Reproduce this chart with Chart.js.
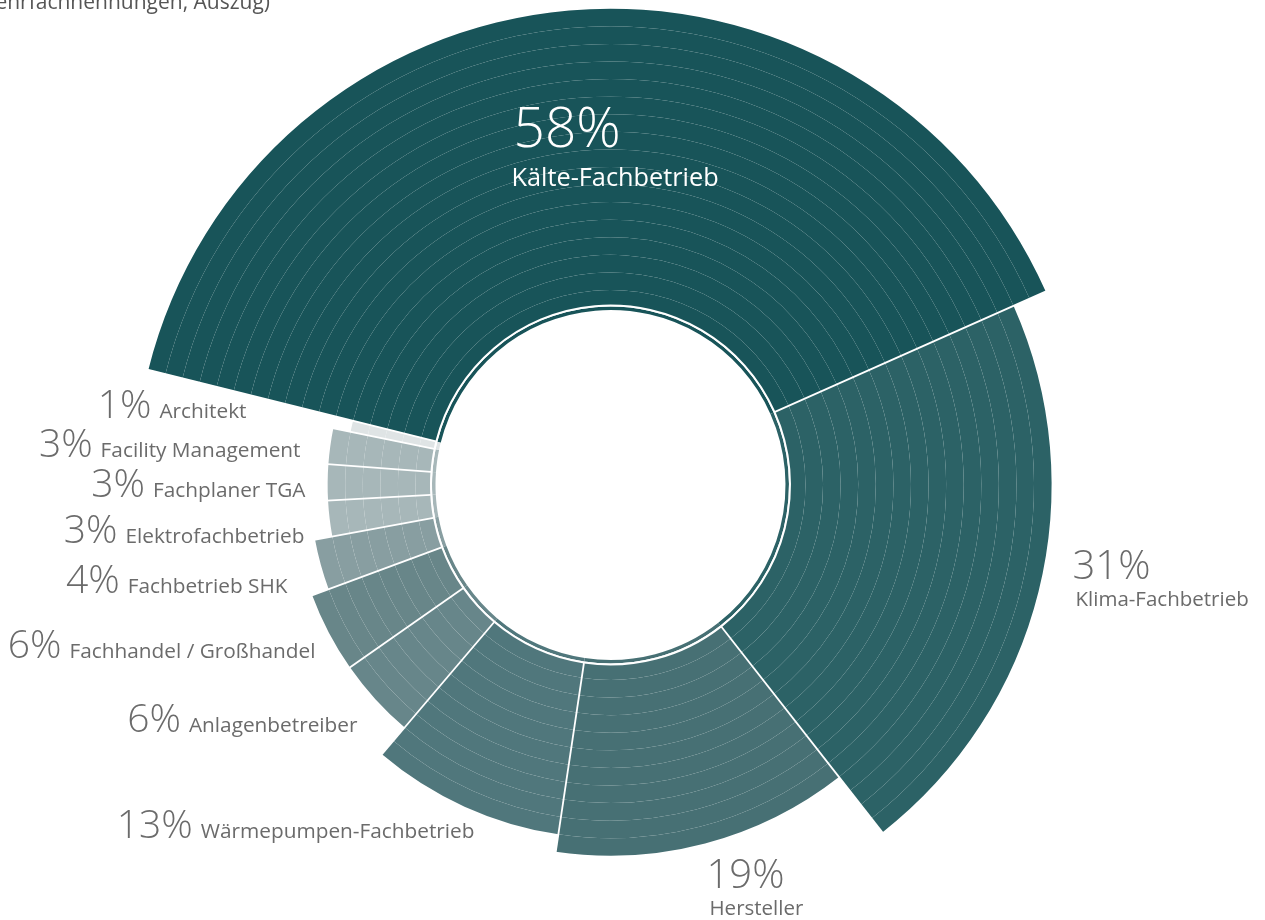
<!DOCTYPE html>
<html lang="de">
<head>
<meta charset="utf-8">
<title>Berufsgruppen (Mehrfachnennungen, Auszug)</title>
<script src="https://cdn.jsdelivr.net/npm/chart.js@4.4.1/dist/chart.umd.min.js"></script>
<style>
	html, body { margin: 0; padding: 0; background: #fff; overflow: hidden; }
	#wrap { position: relative; width: 1265px; height: 920px; overflow: hidden; }
	#myChart { position: absolute; left: 0; top: 0; }
</style>
</head>
<body>
<div id="wrap"><canvas id="myChart" width="1265" height="970"></canvas></div>
<script>
var title = "(Mehrfachnennungen, Auszug)";
var categories = ["Kälte-Fachbetrieb", "Klima-Fachbetrieb", "Hersteller", "Wärmepumpen-Fachbetrieb", "Anlagenbetreiber", "Fachhandel / Großhandel", "Fachbetrieb SHK", "Elektrofachbetrieb", "Fachplaner TGA", "Facility Management", "Architekt"];
var shares = [58, 31, 19, 13, 6, 6, 4, 3, 3, 3, 1];
// how many rings each slice reaches out to
var ringLevels = [17, 15, 11, 10, 8, 8, 7, 6, 6, 6, 5];
var sliceColors = ["#185459", "#2c6266", "#477074", "#50777c", "#67868a", "#688689", "#889ea1", "#a7b7b9", "#a7b7b9", "#a7b7b9", "#dfe4e5"];

var maxLevel = 17;

// label placement relative to the chart centre (layout only)
var labelLayout = [
	{ dx: -97, dy: -338, stacked: true, white: true, big: true },
	{ dx: 462, dy: 94, stacked: true },
	{ dx: 96, dy: 403, stacked: true },
	{ dx: -136, dy: 353 },
	{ dx: -253, dy: 247 },
	{ dx: -295, dy: 173 },
	{ dx: -323, dy: 108 },
	{ dx: -306, dy: 58 },
	{ dx: -305, dy: 12 },
	{ dx: -310, dy: -28 },
	{ dx: -364, dy: -67 }
];

var datasets = [];
for (var level = maxLevel; level >= 1; level--) {
	var bg = [];
	for (var i = 0; i < shares.length; i++) {
		bg.push(ringLevels[i] >= level ? sliceColors[i] : "rgba(0,0,0,0)");
	}
	datasets.push({
		label : "Ebene " + level,
		data : shares,
		backgroundColor : bg,
		borderWidth : 0,
		weight : level == 1 ? 14.5 : 17.6
	});
}
// white circle and thin inner ring
datasets.push({ label : "trenner", data : shares, backgroundColor : "#ffffff", borderWidth : 0, weight : 2 });
datasets.push({ label : "innen", data : shares, backgroundColor : sliceColors, borderWidth : 0, weight : 3.5 });

var separators = {
	id : "separators",
	afterDatasetsDraw : function(chart) {
		var ctx = chart.ctx;
		var base = chart.getDatasetMeta(maxLevel - 1).data;
		var n = shares.length;
		ctx.save();
		ctx.strokeStyle = "#ffffff";
		ctx.lineWidth = 1.8;
		for (var i = 0; i < n; i++) {
			var prev = (i + n - 1) % n;
			var rA = chart.getDatasetMeta(maxLevel - ringLevels[i]).data[i].outerRadius;
			var rB = chart.getDatasetMeta(maxLevel - ringLevels[prev]).data[prev].outerRadius;
			var arc = base[i];
			var a = arc.startAngle;
			var r0 = arc.innerRadius - 0.5;
			var r1 = Math.max(rA, rB) + 1;
			ctx.beginPath();
			ctx.moveTo(arc.x + Math.cos(a) * r0, arc.y + Math.sin(a) * r0);
			ctx.lineTo(arc.x + Math.cos(a) * r1, arc.y + Math.sin(a) * r1);
			ctx.stroke();
		}
		ctx.restore();
	}
};

var labels = {
	id : "labels",
	afterDraw : function(chart) {
		var ctx = chart.ctx;
		var c = chart.getDatasetMeta(0).data[0];
		var cx = c.x, cy = c.y;
		ctx.save();
		ctx.textBaseline = "alphabetic";
		// title, cut off at the top edge like the original page
		ctx.fillStyle = "#555555";
		ctx.font = "21px 'Open Sans'";
		ctx.textAlign = "right";
		ctx.fillText(title, 270, 9);
		for (var i = 0; i < categories.length; i++) {
			var L = labelLayout[i];
			var pct = shares[i] + "%";
			var x = cx + L.dx, y = cy + L.dy;
			ctx.fillStyle = L.white ? "#ffffff" : "#6b6b6b";
			if (L.stacked) {
				ctx.textAlign = "left";
				ctx.font = "300 " + (L.big ? 55 : 40) + "px 'Open Sans'";
				ctx.fillText(pct, x, y);
				ctx.font = (L.big ? 25.3 : 20.5) + "px 'Open Sans'";
				ctx.fillText(categories[i], x + (L.big ? -2 : 3), y + (L.big ? 39 : 27));
			} else {
				ctx.textAlign = "right";
				ctx.font = "20.8px 'Open Sans'";
				ctx.fillText(categories[i], x, y);
				var w = ctx.measureText(categories[i]).width;
				ctx.font = "300 39px 'Open Sans'";
				ctx.fillText(pct, x - w - 8, y);
			}
		}
		ctx.restore();
	}
};

var ctx = document.getElementById("myChart");
var myChart = new Chart(ctx, {
	type : "doughnut",
	data : {
		labels : categories,
		datasets : datasets
	},
	options : {
		responsive : false,
		animation : false,
		events : [],
		cutout : 175,
		rotation : -76,
		layout : { padding : { left : 134.25, top : 8.75, right : 178.25, bottom : 8.75 } },
		plugins : {
			legend : { display : false },
			tooltip : { enabled : false }
		}
	},
	plugins : [separators, labels]
});
</script>
</body>
</html>
